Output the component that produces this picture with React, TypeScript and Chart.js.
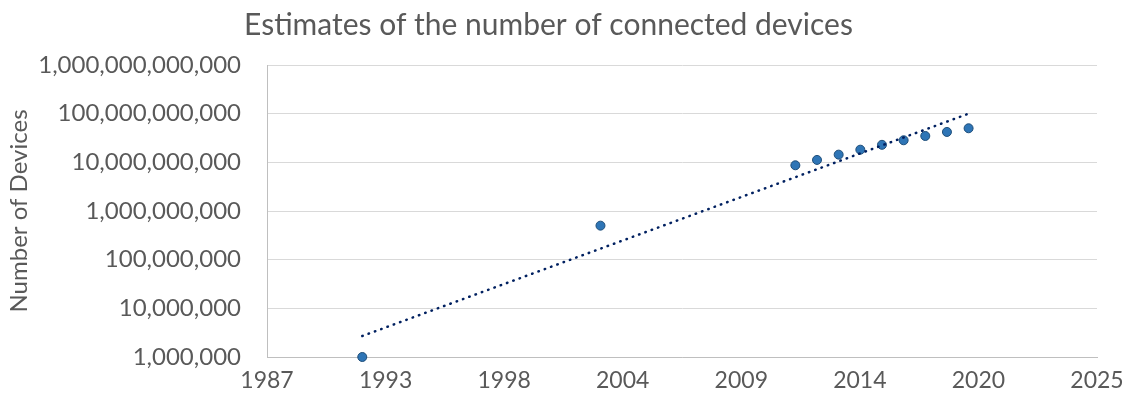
import React, { useEffect, useRef } from "react";
import { Chart, registerables } from "chart.js";

Chart.register(...registerables);

// Estimated connected devices by year
const YEARS = [1992, 2003, 2012, 2013, 2014, 2015, 2016, 2017, 2018, 2019, 2020];
const DEVICES = [
  1e6, 5e8, 8.7e9, 11.2e9, 14.4e9, 18.2e9, 22.9e9, 28.4e9, 34.8e9, 42.1e9, 50.1e9,
];

// Exponential trend line end points
const TREND_YEARS = [1992, 2020];
const TREND_DEVICES = [2.7e6, 1.0e11];

// Axis ticks
const X_TICK_LABELS = ["1987", "1993", "1998", "2004", "2009", "2014", "2020", "2025"];
const X_MIN = 1987.6;
const X_STEP = 2000 / 365.25;
const Y_TICKS = [1e6, 1e7, 1e8, 1e9, 1e10, 1e11, 1e12];

const FONT = "Lato, 'Open Sans', sans-serif";
const TEXT = "#595959";

export default function App() {
  const ref = useRef<HTMLCanvasElement | null>(null);

  useEffect(() => {
    if (!ref.current) return;
    const chart = new Chart(ref.current, {
      type: "scatter",
      data: {
        datasets: [
          {
            label: "Devices",
            data: YEARS.map((x, i) => ({ x, y: DEVICES[i] })),
            backgroundColor: "#2E75B6",
            borderColor: "#1F4E79",
            borderWidth: 1,
            pointRadius: 4.5,
            clip: 10,
            order: 1,
          } as any,
          {
            label: "Trend",
            type: "line",
            data: TREND_YEARS.map((x, i) => ({ x, y: TREND_DEVICES[i] })),
            borderColor: "#002060",
            borderWidth: 2.5,
            borderDash: [0.5, 6.2],
            borderCapStyle: "round",
            pointRadius: 0,
            fill: false,
            order: 0,
          } as any,
        ],
      },
      options: {
        responsive: false,
        animation: false,
        devicePixelRatio: 1,
        layout: { padding: { left: 0, right: 31, top: 0, bottom: 0 } },
        plugins: {
          legend: { display: false },
          tooltip: { enabled: false },
          title: {
            display: true,
            text: "Estimates of the number of connected devices",
            color: TEXT,
            font: { family: FONT, size: 30, weight: "normal" },
            padding: { top: 7, bottom: 22 },
          },
        },
        scales: {
          x: {
            type: "linear",
            min: X_MIN,
            max: X_MIN + (X_TICK_LABELS.length - 1) * X_STEP,
            afterBuildTicks: (scale: any) => {
              scale.ticks = X_TICK_LABELS.map((_, i) => ({ value: X_MIN + i * X_STEP }));
            },
            afterFit: (scale: any) => {
              scale.height = 49;
              scale.paddingLeft = 0;
              scale.paddingRight = 0;
            },
            grid: { display: false, drawTicks: false },
            border: { display: true, color: "#bfbfbf", width: 1 },
            ticks: {
              color: TEXT,
              font: { family: FONT, size: 23 },
              padding: 10,
              maxRotation: 0,
              autoSkip: false,
              callback: (_v: any, i: number) => X_TICK_LABELS[i],
            },
          },
          y: {
            type: "logarithmic",
            min: Y_TICKS[0],
            max: Y_TICKS[Y_TICKS.length - 1],
            afterBuildTicks: (scale: any) => {
              scale.ticks = Y_TICKS.map((value) => ({ value }));
            },
            afterFit: (scale: any) => {
              scale.width = 267;
            },
            grid: { color: "#d9d9d9", lineWidth: 1, drawTicks: false },
            border: { display: true, color: "#bfbfbf", width: 1 },
            title: {
              display: true,
              text: "Number of Devices",
              color: TEXT,
              font: { family: FONT, size: 24, weight: "normal" },
              padding: { top: 5, bottom: 0 },
            },
            ticks: {
              color: TEXT,
              font: { family: FONT, size: 24 },
              padding: 26,
              autoSkip: false,
              callback: (v: any) => Number(v).toLocaleString("en-US"),
            },
          },
        },
      },
    });
    return () => chart.destroy();
  }, []);

  return (
    <div style={{ position: "fixed", left: 0, top: 0, width: 1128, height: 406, background: "#fff" }}>
      <canvas ref={ref} width={1128} height={406} />
    </div>
  );
}
